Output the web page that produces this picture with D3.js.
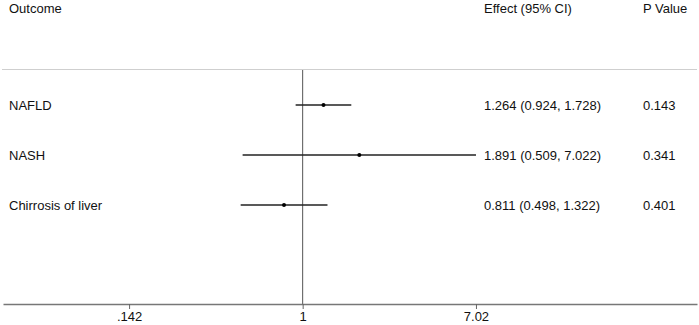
<!DOCTYPE html>
<meta charset="utf-8">
<html>
<head>
    <script src="https://d3js.org/d3.v7.min.js"></script>
    <style>
        body { margin: 0; background: white; }
        text { font-family: "Liberation Sans", Arial, sans-serif; font-size: 13px; fill: #111; }
    </style>
</head>
<body>
    <div id="forest"></div>
    <script>
        // data
        var outcomes = ["NAFLD", "NASH", "Chirrosis of liver"];
        var effects = [1.264, 1.891, 0.811];
        var lower = [0.924, 0.509, 0.498];
        var upper = [1.728, 7.022, 1.322];
        var pValues = ["0.143", "0.341", "0.401"];
        var tickValues = [0.142, 1, 7.02];
        var tickLabels = [".142", "1", "7.02"];
        var headers = ["Outcome", "Effect (95% CI)", "P Value"];

        var width = 699,
            height = 325;

        var svg = d3.select("#forest").append("svg")
            .attr("width", width)
            .attr("height", height);

        // layout
        var plotLeft = 3, plotRight = 697;
        var headerY = 8, topLineY = 69, axisY = 304;
        var colOutcome = 9, colEffect = 484, colP = 643;

        // log x scale, 1 sits at ~302.7px
        var x = d3.scaleLog()
            .domain([0.0344, 84.3])
            .range([plotLeft, plotRight]);

        var y = d3.scalePoint()
            .domain(outcomes)
            .range([105, 205]);

        // headers
        svg.selectAll(".hdr")
            .data(headers)
            .enter()
            .append("text")
            .attr("class", "hdr")
            .attr("x", function(d, i) { return [colOutcome, colEffect, colP][i]; })
            .attr("y", headerY)
            .attr("dy", "0.35em")
            .text(function(d) { return d; });

        // separator under headers
        svg.append("line")
            .attr("x1", plotLeft - 1)
            .attr("x2", plotRight)
            .attr("y1", topLineY + 0.5)
            .attr("y2", topLineY + 0.5)
            .attr("stroke", "#cfcfcf")
            .attr("stroke-width", 1);

        // null line at 1
        svg.append("line")
            .attr("x1", x(1))
            .attr("x2", x(1))
            .attr("y1", topLineY + 1)
            .attr("y2", axisY)
            .attr("stroke", "#555")
            .attr("stroke-width", 1);

        // x axis
        var axis = d3.axisBottom(x)
            .tickValues(tickValues)
            .tickFormat(function(d, i) { return tickLabels[i]; })
            .tickSize(5)
            .tickSizeOuter(0)
            .tickPadding(3);

        var gAxis = svg.append("g")
            .attr("transform", "translate(0," + axisY + ")")
            .call(axis);
        gAxis.select(".domain").attr("stroke", "#777").attr("stroke-width", 1.6);
        gAxis.selectAll(".tick line").attr("stroke", "#666");
        gAxis.selectAll(".tick text")
            .style("font-family", '"Liberation Sans", Arial, sans-serif')
            .style("font-size", "13px")
            .attr("fill", "#111");

        var rows = outcomes.map(function(o, i) {
            return { name: o, est: effects[i], lo: lower[i], hi: upper[i], p: pValues[i] };
        });

        // confidence intervals
        svg.selectAll(".ci")
            .data(rows)
            .enter()
            .append("line")
            .attr("class", "ci")
            .attr("x1", function(d) { return x(d.lo); })
            .attr("x2", function(d) { return x(d.hi); })
            .attr("y1", function(d) { return y(d.name); })
            .attr("y2", function(d) { return y(d.name); })
            .attr("stroke", "#222")
            .attr("stroke-width", 1.6);

        // point estimates
        svg.selectAll(".pt")
            .data(rows)
            .enter()
            .append("circle")
            .attr("class", "pt")
            .attr("cx", function(d) { return x(d.est); })
            .attr("cy", function(d) { return y(d.name); })
            .attr("r", 2)
            .attr("fill", "#000");

        // row labels
        svg.selectAll(".lbl")
            .data(rows)
            .enter()
            .append("text")
            .attr("class", "lbl")
            .attr("x", colOutcome)
            .attr("y", function(d) { return y(d.name); })
            .attr("dy", "0.35em")
            .text(function(d) { return d.name; });

        // effect text
        svg.selectAll(".eff")
            .data(rows)
            .enter()
            .append("text")
            .attr("class", "eff")
            .attr("x", colEffect)
            .attr("y", function(d) { return y(d.name); })
            .attr("dy", "0.35em")
            .text(function(d) {
                return d.est.toFixed(3) + " (" + d.lo.toFixed(3) + ", " + d.hi.toFixed(3) + ")";
            });

        // p values
        svg.selectAll(".pv")
            .data(rows)
            .enter()
            .append("text")
            .attr("class", "pv")
            .attr("x", colP)
            .attr("y", function(d) { return y(d.name); })
            .attr("dy", "0.35em")
            .text(function(d) { return d.p; });
    </script>
</body>
</html>
